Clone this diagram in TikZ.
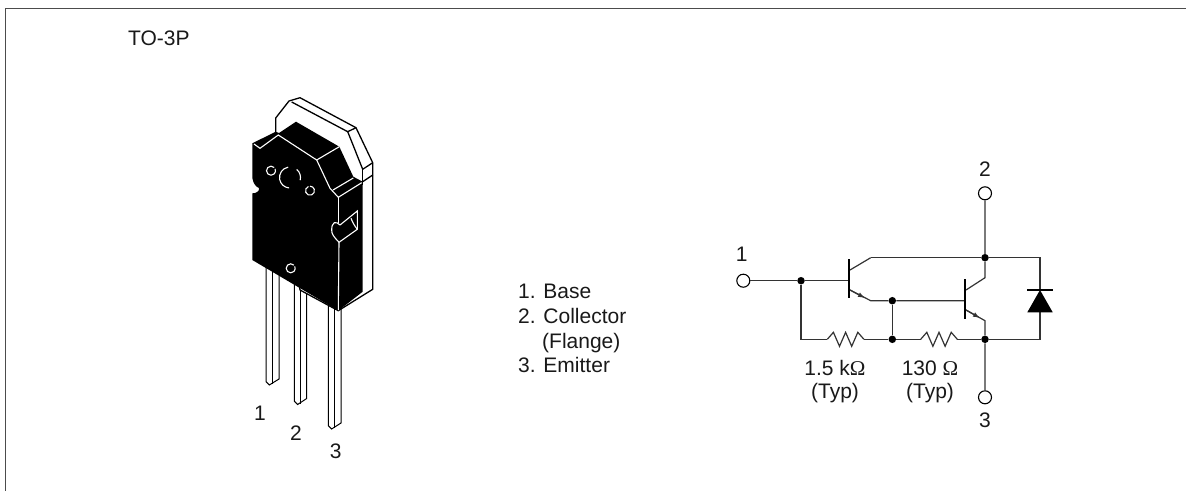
\documentclass[tikz,border=0pt]{standalone}
\usepackage{fontspec}
\setmainfont{Liberation Sans}
\newfontfamily\serifom{Liberation Serif}
\usetikzlibrary{arrows.meta}
\tikzset{
  lbl/.style={inner sep=0pt,font=\fontsize{21}{24}\selectfont,text=black!90},
  wire/.style={line width=1.2pt,black!80},
  bar/.style={line width=1.4pt,black},
  wl/.style={white,line width=1.1pt,line join=miter},
  bl/.style={black,line width=1.3pt,line join=miter},
  dotn/.style={circle,fill=black,inner sep=0pt,minimum size=7.5pt},
  term/.style={circle,draw=black,line width=1.1pt,fill=white,inner sep=0pt,minimum size=13pt},
  arr/.style={-{Latex[length=7pt,width=5pt]},wire}
}
\newcommand{\ohm}{{\serifom Ω}}
\begin{document}
\begin{tikzpicture}[x=1pt,y=-1pt]
\useasboundingbox (0,0) rectangle (1186,491);
% frame
\coordinate (ftr) at (1186,8.5); \coordinate (ftl) at (5.5,8.5); \coordinate (fbl) at (5.5,491);
\draw[black!70,line width=1pt] (ftr) -- (ftl) -- (fbl);
\node[lbl,anchor=base west] (pkg) at (128,45) {TO-3P};
% pins
\foreach \a/\b/\c/\d in {266/272.3/279/0,294.3/300.7/306.7/19.5,328.3/334.3/341/44}{
  \pgfmathsetmacro{\yl}{381.7+\d}\pgfmathsetmacro{\yt}{385+\d}\pgfmathsetmacro{\yr}{379+\d}
  \draw[bl,line width=1pt,fill=white] (\a,240) -- (\a,\yl) -- (\a+3.3,\yt) -- (\c,\yr) -- (\c,240) -- cycle;
  \draw[bl,line width=1pt] (\b,240) -- (\b,\yt-1);
}
% tab outline
\draw[bl,fill=white] (275.7,132) -- (275.7,118) -- (289,101) -- (300,97.7) -- (356,127.7) -- (372.7,162.7) -- (372.7,289.3) -- (338.3,310.7) -- (300,290) -- cycle;
\draw[bl] (291.7,102) -- (347.7,131.7) -- (362.7,169.3) -- (372.7,162.7);
\draw[bl] (347.7,131.7) -- (356,127.7);
\draw[bl] (362.7,169.3) -- (362.7,185);
\draw[bl] (362.7,181.7) -- (372.7,175);
% body
\fill[black] (252.3,143.3) -- (275.7,131.7) -- (279,133) -- (296,121.7) -- (339.3,146.7) -- (353.3,176.7) -- (362.7,181.7) -- (362.7,291.7) -- (338.3,310.7) -- (252.3,260) -- (252.3,193.3) .. controls (256,193.5) and (260,191) .. (259,188) .. controls (256,187) and (253.5,184) .. (252.3,178) -- cycle;
% white lines on the body
\draw[wl] (254,144) -- (260,148.3) -- (278.3,135) -- (316.7,160) -- (330,188.3) -- (338.3,197.3) -- (361.7,182.7);
\draw[wl] (316.7,160) -- (339.3,146.7);
\draw[wl] (333,190) -- (353.3,178);
\draw[wl] (338.3,197.3) -- (338.3,223);
\draw[wl] (339,242.3) -- (338.3,310);
% holes
\coordinate (hb) at (290,177.5);
\draw[wl] (hb) ++(-100:10.5) arc[start angle=-100,end angle=-265,radius=10.5];
\draw[wl] (hb) ++(-50:10.5) arc[start angle=-50,end angle=15,radius=10.5];
\coordinate (h1) at (271,170.7);
\draw[wl] (h1) ++(-45:4.5) arc[start angle=-45,end angle=-385,radius=4.5];
\coordinate (h2) at (310,190.7);
\draw[wl] (h2) ++(-110:4.5) arc[start angle=-110,end angle=-450,radius=4.5];
\coordinate (h3) at (290.7,268.3);
\draw[wl] (h3) ++(-45:4.5) arc[start angle=-45,end angle=-385,radius=4.5];
% cut-out
\draw[wl] (340,225) -- (357.3,211) -- (357.3,229.3) -- (339,242.3) .. controls (334,237) and (331.5,234) .. (331.7,230) .. controls (331.7,226) and (332.5,224) .. (334.3,222.7) .. controls (336,222) and (338,223) .. (340,225);
\draw[wl] (351,218.3) .. controls (352.5,222) and (354.5,226) .. (357.3,229.3);
% pin labels
\node[lbl] (p1) at (260,413) {1};
\node[lbl] (p2) at (296,433) {2};
\node[lbl] (p3) at (335.7,451.7) {3};
% legend
\node[lbl,anchor=base west] (l1) at (518,298) {1. Base};
\node[lbl,anchor=base west] (l2) at (518,323) {2. Collector};
\node[lbl,anchor=base west] (l3) at (542,348) {(Flange)};
\node[lbl,anchor=base west] (l4) at (518,372.7) {3. Emitter};
% circuit junctions
\node[term] (t1) at (743.3,280.7) {};
\node[term] (t2) at (985,193.3) {};
\node[term] (t3) at (985,397.3) {};
\node[dotn] (d1) at (801,280.7) {};
\node[dotn] (dc) at (985,257.7) {};
\node[dotn] (de) at (892.3,300.7) {};
\node[dotn] (dm) at (892.3,339.3) {};
\node[dotn] (dr) at (985,339.3) {};
\coordinate (b1) at (849,280.7);
\coordinate (b2) at (965,300.7);
\coordinate (c1a) at (850,270); \coordinate (c1b) at (870.7,257.7);
\coordinate (e1a) at (850,290); \coordinate (e1b) at (870.7,300.7);
\coordinate (c2a) at (966,290); \coordinate (c2b) at (985,277.7);
\coordinate (e2a) at (966,310); \coordinate (e2b) at (985,320.7);
\coordinate (dl) at (801,339.3);
\coordinate (r1a) at (827.3,339.3); \coordinate (r1b) at (864,339.3);
\coordinate (r2a) at (920.7,339.3); \coordinate (r2b) at (957.3,339.3);
\coordinate (nw) at (1040,257.7); \coordinate (se) at (1040,339.3);
\coordinate (da) at (1040,290); \coordinate (dk) at (1040,312.3);
% wires
\draw[wire] (t1) -- (d1) -- (b1);
\draw[wire] (d1) -- (dl) -- (r1a);
\draw[wire] (r1b) -- (dm) -- (r2a);
\draw[wire] (r2b) -- (dr) -- (se) -- (dk);
\draw[wire] (c1b) -- (dc) -- (nw) -- (da);
\draw[wire] (c1a) -- (c1b);
\draw[wire] (e1a) -- (e1b) -- (de) -- (b2);
\draw[wire] (de) -- (dm);
\draw[wire] (t2) -- (dc) -- (c2b) -- (c2a);
\draw[wire] (e2a) -- (e2b) -- (dr) -- (t3);
\draw[arr] (e1a) -- (865,298);
\draw[arr] (e2a) -- (980,318);
% bars
\draw[bar] (849,259.3) -- (849,298.3);
\draw[bar] (965,279.3) -- (965,319.3);
\draw[bar] (1027.3,290) -- (1052.7,290);
\fill[black] (1040,290) -- (1052.7,312.3) -- (1027.3,312.3) -- cycle;
% resistors
\foreach \s/\e in {r1a/r1b,r2a/r2b}{
  \draw[wire,line join=miter] (\s) -- ++(6.1,-7) -- ++(6.1,14) -- ++(6.1,-14) -- ++(6.1,14) -- ++(6.1,-14) -- ++(6.1,7);
}
% circuit labels
\node[lbl] (n1) at (741.7,254) {1};
\node[lbl] (n2) at (985,169.3) {2};
\node[lbl] (n3) at (985,420.7) {3};
\node[lbl] (v1) at (835,368.3) {1.5 k\ohm};
\node[lbl] (v2) at (835,393.3) {(Typ)};
\node[lbl] (v3) at (930,368.3) {130 \ohm};
\node[lbl] (v4) at (930,393.3) {(Typ)};
\end{tikzpicture}
\end{document}
